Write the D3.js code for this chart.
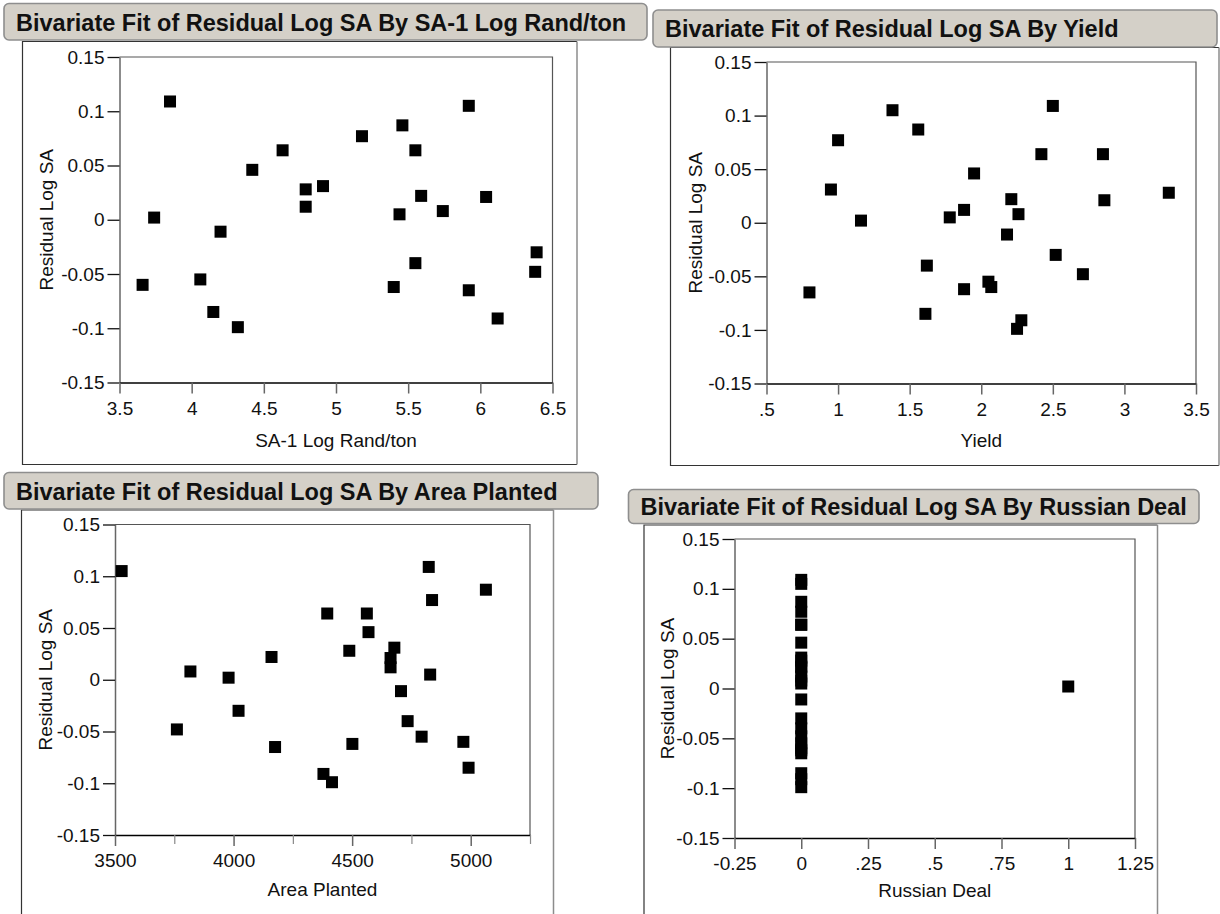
<!DOCTYPE html>
<html>
<head>
<meta charset="utf-8">
<script src="https://cdn.jsdelivr.net/npm/d3@7"></script>
<style>
  html, body { margin: 0; padding: 0; background: #fff; }
  svg { display: block; font-family: "Liberation Sans", Arial, sans-serif; }
</style>
</head>
<body>
<svg id="chart" width="1220" height="914"></svg>
<script>
const residualLogSA = [0.109, 0.105, 0.087, 0.077, 0.064, 0.064, 0.046, 0.031, 0.028, 0.022, 0.021, 0.012, 0.008,
  0.005, 0.002, -0.011, -0.030, -0.040, -0.048, -0.055, -0.060, -0.062, -0.065, -0.085, -0.091, -0.099];
const saLogRand = [3.85, 5.92, 5.46, 5.18, 4.63, 5.55, 4.42, 4.91, 4.79, 5.59, 6.04, 4.79, 5.74,
  5.44, 3.74, 4.20, 6.39, 5.55, 6.38, 4.06, 3.66, 5.40, 5.92, 4.15, 6.12, 4.32];
const yieldVals = [2.50, 1.38, 1.56, 1.00, 2.42, 2.85, 1.95, 0.95, 3.31, 2.21, 2.86, 1.88, 2.26,
  1.78, 1.16, 2.18, 2.52, 1.62, 2.71, 2.05, 2.07, 1.88, 0.80, 1.61, 2.28, 2.25];
const areaPlanted = [4823, 3528, 5064, 4837, 4395, 4562, 4569, 4678, 4488, 4160, 4662, 4662, 3818,
  4829, 3979, 4706, 4021, 4734, 3761, 4793, 4969, 4501, 4175, 4991, 4379, 4415];
const russianDeal = [0, 0, 0, 0, 0, 0, 0, 0, 0, 0, 0, 0, 0,
  0, 1, 0, 0, 0, 0, 0, 0, 0, 0, 0, 0, 0];

// Axis ticks and their labels
const yDomain = [-0.15, 0.15];
const yTicks = [0.15, 0.1, 0.05, 0, -0.05, -0.1, -0.15];
const yTickLabels = ['0.15', '0.1', '0.05', '0', '-0.05', '-0.1', '-0.15'];
const saTicks = [3.5, 4, 4.5, 5, 5.5, 6, 6.5];
const saTickLabels = ['3.5', '4', '4.5', '5', '5.5', '6', '6.5'];
const yieldTicks = [0.5, 1, 1.5, 2, 2.5, 3, 3.5];
const yieldTickLabels = ['.5', '1', '1.5', '2', '2.5', '3', '3.5'];
const areaTicks = [3500, 4000, 4500, 5000];
const areaTickLabels = ['3500', '4000', '4500', '5000'];
const areaMinorTicks = [3750, 4250, 4750, 5250];
const russianTicks = [-0.25, 0, 0.25, 0.5, 0.75, 1, 1.25];
const russianTickLabels = ['-0.25', '0', '.25', '.5', '.75', '1', '1.25'];

const yTitle = 'Residual Log SA';

// Panel layout (pixel boxes for title bar, outline frame and plot area)
const panels = [
  {
    title: 'Bivariate Fit of Residual Log SA By SA-1 Log Rand/ton',
    xTitle: 'SA-1 Log Rand/ton',
    xValues: saLogRand, xDomain: [3.5, 6.5], xTicks: saTicks, xTickLabels: saTickLabels, xMinor: [],
    bar: {x0: 4, x1: 647, y0: 3.5, y1: 40},
    frame: {x0: 22.5, x1: 577, y0: 41.5, y1: 464.5},
    plot: {x0: 119.5, x1: 552.5, y0: 57, y1: 382.5},
    xTitleY: 446.5, yTitleX: 46
  },
  {
    title: 'Bivariate Fit of Residual Log SA By Yield',
    xTitle: 'Yield',
    xValues: yieldVals, xDomain: [0.5, 3.5], xTicks: yieldTicks, xTickLabels: yieldTickLabels, xMinor: [],
    bar: {x0: 653, x1: 1217, y0: 10, y1: 47},
    frame: {x0: 670.5, x1: 1219, y0: 47.5, y1: 465.5},
    plot: {x0: 766.5, x1: 1196, y0: 62, y1: 383.5},
    xTitleY: 447, yTitleX: 695
  },
  {
    title: 'Bivariate Fit of Residual Log SA By Area Planted',
    xTitle: 'Area Planted',
    xValues: areaPlanted, xDomain: [3500, 5250], xTicks: areaTicks, xTickLabels: areaTickLabels, xMinor: areaMinorTicks,
    bar: {x0: 4, x1: 598, y0: 472.5, y1: 509},
    frame: {x0: 21.5, x1: 553.5, y0: 510, y1: 930},
    plot: {x0: 115, x1: 530, y0: 524.5, y1: 835},
    xTitleY: 895.5, yTitleX: 45
  },
  {
    title: 'Bivariate Fit of Residual Log SA By Russian Deal',
    xTitle: 'Russian Deal',
    xValues: russianDeal, xDomain: [-0.25, 1.25], xTicks: russianTicks, xTickLabels: russianTickLabels, xMinor: [],
    bar: {x0: 628.5, x1: 1199, y0: 489.5, y1: 523.5},
    frame: {x0: 644, x1: 1157.5, y0: 525, y1: 930},
    plot: {x0: 734.5, x1: 1135, y0: 539, y1: 838},
    xTitleY: 896.5, yTitleX: 667
  }
];

const svg = d3.select('#chart');
const AXIS_FONT = 19;
const TITLE_FONT = 23.5;
const MARK = 12;

function drawPanel(p) {
  const g = svg.append('g');

  // Outline box: dark top/left/bottom, lighter right edge
  const f = p.frame;
  g.append('path')
    .attr('d', `M${f.x1},${f.y0}H${f.x0}V${f.y1}H${f.x1}`)
    .attr('fill', 'none')
    .attr('stroke', '#333')
    .attr('stroke-width', 1.2);
  g.append('line')
    .attr('x1', f.x1).attr('x2', f.x1)
    .attr('y1', f.y0).attr('y2', f.y1)
    .attr('stroke', '#8c8c8c')
    .attr('stroke-width', 1.5);

  // Title bar
  const b = p.bar;
  g.append('rect')
    .attr('x', b.x0).attr('y', b.y0)
    .attr('width', b.x1 - b.x0).attr('height', b.y1 - b.y0)
    .attr('rx', 5).attr('ry', 5)
    .attr('fill', '#d4d0c8')
    .attr('stroke', '#8e8e8e')
    .attr('stroke-width', 1.6);
  g.append('text')
    .attr('x', b.x0 + 12)
    .attr('y', (b.y0 + b.y1) / 2 + 8.8)
    .attr('font-size', TITLE_FONT)
    .attr('font-weight', 'bold')
    .attr('fill', '#111')
    .text(p.title);

  // Scales
  const pl = p.plot;
  const x = d3.scaleLinear().domain(p.xDomain).range([pl.x0, pl.x1]);
  const y = d3.scaleLinear().domain(yDomain).range([pl.y1, pl.y0]);

  // Top and right border of the plot area
  g.append('path')
    .attr('d', `M${pl.x0},${pl.y0}H${pl.x1}V${pl.y1}`)
    .attr('fill', 'none')
    .attr('stroke', '#555')
    .attr('stroke-width', 1.2);

  // Y axis
  const yAxis = g.append('g')
    .attr('transform', `translate(${pl.x0},0)`)
    .call(d3.axisLeft(y)
      .tickValues(yTicks)
      .tickFormat((d, i) => yTickLabels[i])
      .tickSize(12)
      .tickSizeOuter(0)
      .tickPadding(3));
  yAxis.attr('font-size', null).attr('font-family', null);
  yAxis.select('.domain').attr('stroke', '#666').attr('stroke-width', 1.5);
  yAxis.selectAll('.tick line').attr('stroke', '#111').attr('stroke-width', 1.3);
  yAxis.selectAll('.tick text').attr('font-size', AXIS_FONT).attr('fill', '#111');

  // X axis
  const xAxis = g.append('g')
    .attr('transform', `translate(0,${pl.y1})`)
    .call(d3.axisBottom(x)
      .tickValues(p.xTicks)
      .tickFormat((d, i) => p.xTickLabels[i])
      .tickSize(11)
      .tickSizeOuter(0)
      .tickPadding(8));
  xAxis.attr('font-size', null).attr('font-family', null);
  xAxis.select('.domain').attr('stroke', '#000').attr('stroke-width', 1.4);
  xAxis.selectAll('.tick line').attr('stroke', '#666').attr('stroke-width', 1.5);
  xAxis.selectAll('.tick text').attr('font-size', AXIS_FONT).attr('fill', '#111');

  // Minor x ticks (unlabelled)
  if (p.xMinor.length) {
    const minor = g.append('g')
      .attr('transform', `translate(0,${pl.y1})`)
      .call(d3.axisBottom(x)
        .tickValues(p.xMinor)
        .tickFormat('')
        .tickSize(9)
        .tickSizeOuter(0));
    minor.select('.domain').remove();
    minor.selectAll('.tick line').attr('stroke', '#888').attr('stroke-width', 1.2);
  }

  // Axis titles
  g.append('text')
    .attr('x', (pl.x0 + pl.x1) / 2)
    .attr('y', p.xTitleY)
    .attr('text-anchor', 'middle')
    .attr('font-size', AXIS_FONT)
    .attr('fill', '#111')
    .text(p.xTitle);
  g.append('text')
    .attr('transform', `translate(${p.yTitleX},${(pl.y0 + pl.y1) / 2}) rotate(-90)`)
    .attr('text-anchor', 'middle')
    .attr('dy', '0.35em')
    .attr('font-size', AXIS_FONT)
    .attr('fill', '#111')
    .text(yTitle);

  // Points
  g.append('g')
    .selectAll('rect')
    .data(d3.range(residualLogSA.length))
    .join('rect')
    .attr('x', i => x(p.xValues[i]) - MARK / 2)
    .attr('y', i => y(residualLogSA[i]) - MARK / 2)
    .attr('width', MARK)
    .attr('height', MARK)
    .attr('fill', '#000');
}

panels.forEach(drawPanel);
</script>
</body>
</html>
